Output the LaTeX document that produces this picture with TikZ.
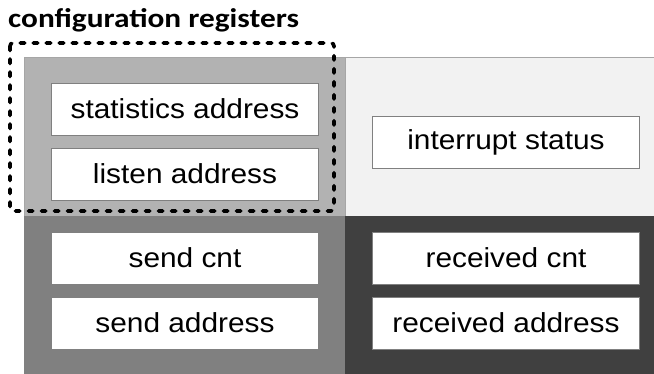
\documentclass[tikz,border=0pt]{standalone}
\usepackage{fontspec}
\setmainfont{Liberation Sans}[FakeStretch=1.085]
\newfontfamily\titlefont{Carlito}[FakeStretch=1.16]
\begin{document}
\begin{tikzpicture}[x=1pt,y=-1pt,
  quad/.style={draw=gray!70,line width=0.8pt},
  reg/.style={draw=gray,line width=0.8pt,fill=white,minimum width=267pt,minimum height=52pt,inner sep=0pt,font=\fontsize{27.5}{32}\selectfont},
  cfgbox/.style={draw=black,line width=3.6pt,dash pattern=on 4.5pt off 8.5pt,line cap=round,rounded corners=3pt}]
\useasboundingbox (0,0) rectangle (654,373);
\fill[white] (0,0) rectangle (654,373);
\path[quad,fill=black!30] (24,57) rectangle (345,216);
\path[quad,fill=black!5] (345,57) rectangle (655,216);
\path[quad,fill=black!50,draw=black!50] (24,216) rectangle (345,374);
\path[quad,fill=black!75,draw=black!75] (345,216) rectangle (655,374);
\node[reg] (stat) at (185,109) {statistics address};
\node[reg] (listen) at (185,174) {listen address};
\node[reg] (intr) at (506,142) {interrupt status};
\node[reg] (scnt) at (185,258) {send cnt};
\node[reg] (saddr) at (185,323) {send address};
\node[reg] (rcnt) at (506,258) {received cnt};
\node[reg] (raddr) at (506,323) {received address};
\draw[cfgbox] (10,43) rectangle (334,211);
\node[anchor=base west,inner sep=0pt,font=\titlefont\bfseries\fontsize{27}{32}\selectfont] (title) at (8,27) {configuration registers};
\end{tikzpicture}
\end{document}
